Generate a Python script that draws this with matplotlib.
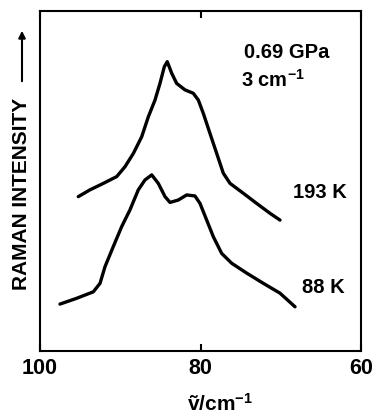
import matplotlib
matplotlib.use("Agg")
import matplotlib.pyplot as plt
from matplotlib.patches import FancyArrowPatch

plt.rcParams['font.family'] = ['Liberation Sans', 'DejaVu Sans']
plt.rcParams['font.weight'] = 'bold'
plt.rcParams['mathtext.fontset'] = 'custom'
plt.rcParams['mathtext.rm'] = 'Liberation Sans:bold'
plt.rcParams['mathtext.bf'] = 'Liberation Sans:bold'
plt.rcParams['mathtext.default'] = 'bf'

# 193 K spectrum (wavenumber cm^-1, intensity arb.)
wn_193 = [95.23, 93.77, 92.11, 90.44, 89.41, 88.37, 87.33, 86.50, 85.67, 85.05,
          84.51, 84.14, 83.59, 82.97, 81.93, 80.90, 80.27, 79.65, 78.82, 77.98,
          77.16, 76.32, 74.67, 73.00, 71.34, 70.09]
int_193 = [0.454, 0.474, 0.493, 0.513, 0.542, 0.581, 0.630, 0.689, 0.738, 0.787,
           0.836, 0.851, 0.817, 0.787, 0.768, 0.758, 0.738, 0.699, 0.640, 0.581,
           0.523, 0.493, 0.464, 0.434, 0.405, 0.385]

# 88 K spectrum
wn_88 = [97.51, 95.43, 93.36, 92.52, 91.90, 90.87, 89.82, 88.79, 87.75, 86.92,
         86.08, 85.26, 84.42, 83.80, 82.77, 81.72, 80.69, 80.06, 79.23, 78.40,
         77.36, 76.11, 74.24, 72.17, 70.09, 68.22]
int_88 = [0.138, 0.155, 0.174, 0.199, 0.248, 0.307, 0.366, 0.415, 0.474, 0.503,
          0.518, 0.493, 0.454, 0.437, 0.444, 0.459, 0.456, 0.434, 0.385, 0.336,
          0.287, 0.258, 0.229, 0.199, 0.170, 0.130]

x_ticks = [100, 80, 60]
x_tick_labels = ['100', '80', '60']

fig = plt.figure(figsize=(3.79, 4.19), dpi=100)
ax = fig.add_axes([40/379, 1 - 351/419, 321/379, 340/419])

ax.plot(wn_193, int_193, color='black', lw=2.4, solid_joinstyle='round',
        solid_capstyle='round')
ax.plot(wn_88, int_88, color='black', lw=2.4, solid_joinstyle='round',
        solid_capstyle='round')

ax.set_xlim(100, 60)
ax.set_ylim(0, 1)
ax.set_xticks(x_ticks)
ax.set_xticklabels(x_tick_labels)
ax.set_yticks([])
ax.tick_params(axis='x', direction='in', top=True, bottom=True, length=5, width=1.5,
               labelsize=15.5, pad=5)
for lab in ax.get_xticklabels():
    lab.set_fontweight('bold')
for s in ax.spines.values():
    s.set_linewidth(1.5)

ax.text(0.769, 0.879, '0.69 GPa', transform=ax.transAxes, fontsize=14.5,
        fontweight='bold', ha='center', va='center')
ax.text(0.626, 0.797, '3 cm$^{-1}$', transform=ax.transAxes, fontsize=14.5,
        fontweight='bold', ha='left', va='center')
ax.text(0.788, 0.465, '193 K', transform=ax.transAxes, fontsize=14.5,
        fontweight='bold', ha='left', va='center')
ax.text(0.816, 0.188, '88 K', transform=ax.transAxes, fontsize=14.5,
        fontweight='bold', ha='left', va='center')

fig.text(22/379, 1 - 194/419, 'RAMAN INTENSITY', rotation=90, fontsize=15,
         fontweight='bold', ha='center', va='center')
fig.add_artist(FancyArrowPatch(
    (22/379, 1 - 84/419), (22/379, 1 - 28/419), transform=fig.transFigure,
    arrowstyle='-|>', mutation_scale=10, lw=1.5, color='black'))

fig.text(220/379, 1 - 404/419, 'ṽ/cm$^{-1}$', fontsize=15, fontweight='bold',
         ha='center', va='center')

fig.savefig('out.png', dpi=100)
